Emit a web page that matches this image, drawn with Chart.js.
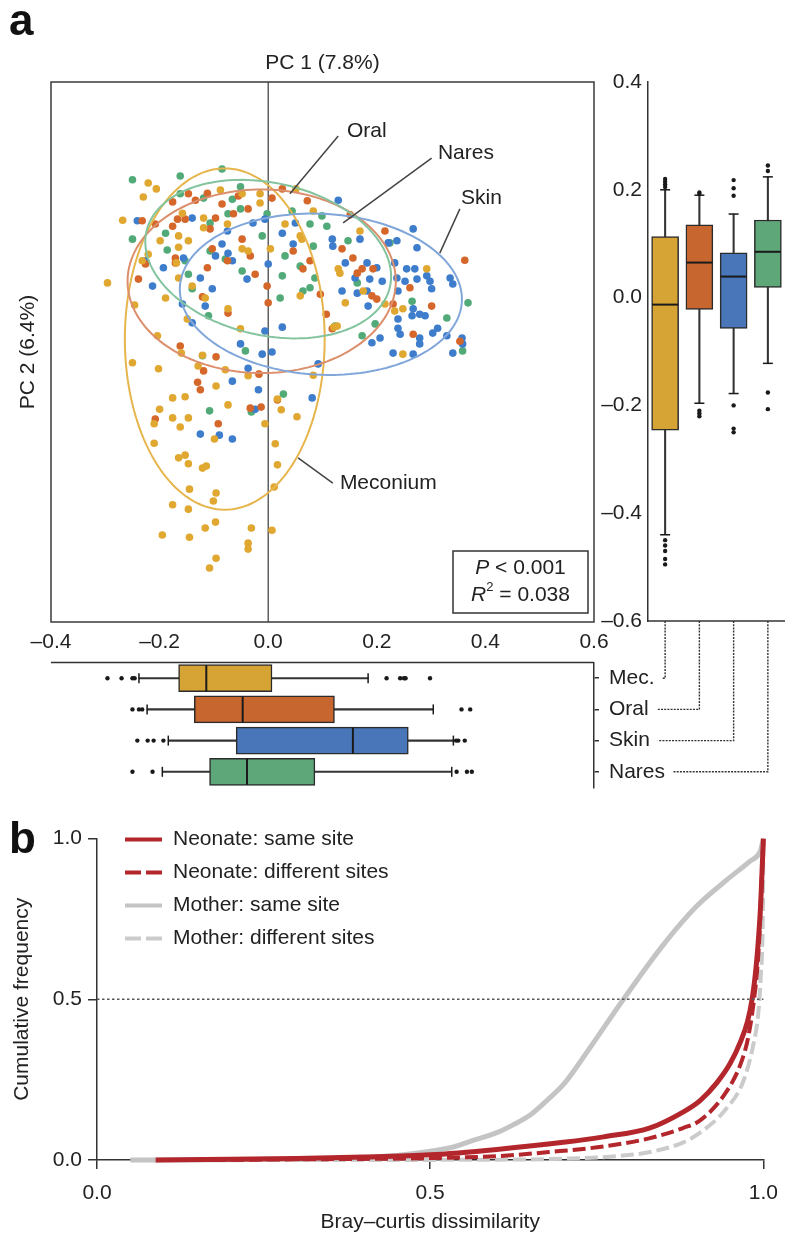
<!DOCTYPE html>
<html>
<head>
<meta charset="utf-8">
<script src="https://cdn.jsdelivr.net/npm/chart.js"></script>
<style>
  body { margin: 0; background: #fff; }
  #wrap { position: relative; width: 790px; height: 1240px; overflow: hidden; font-family: 'Liberation Sans', Arial, sans-serif; }
  #wrap canvas { position: absolute; }
  .tag { position: absolute; font-weight: bold; font-size: 44px; line-height: 1; color: #111; }
</style>
</head>
<body>
<div id="wrap">
  <canvas id="scatter" width="620" height="660" style="left:0;top:0"></canvas>
  <canvas id="boxPC1" width="720" height="170" style="left:0;top:640px"></canvas>
  <canvas id="boxPC2" width="200" height="800" style="left:590px;top:0"></canvas>
  <canvas id="cdf" width="790" height="420" style="left:0;top:820px"></canvas>
  <div class="tag" style="left:9px;top:-2px">a</div>
  <div class="tag" style="left:9px;top:816px">b</div>
</div>
<script>
// ---------- data ----------
const groups = ['Mec.', 'Oral', 'Skin', 'Nares'];

// PCoA coordinates [PC1, PC2] per body site
const meconiumPts = [
  [-0.204,-0.070],[-0.250,-0.120],[-0.202,-0.131],[-0.160,-0.102],[-0.129,-0.126],[-0.079,-0.133],[-0.037,-0.144],
  [-0.096,-0.163],[-0.176,-0.185],[-0.153,-0.183],[-0.200,-0.206],[-0.074,-0.198],[-0.176,-0.222],[-0.147,-0.222],
  [-0.210,-0.233],[-0.162,-0.239],[-0.099,-0.261],[-0.210,-0.269],[-0.006,-0.233],[0.017,-0.187],[0.024,-0.207],
  [0.053,-0.220],[0.083,-0.143],[0.013,-0.270],[-0.165,-0.296],[-0.153,-0.291],[-0.147,-0.307],[-0.121,-0.315],
  [-0.114,-0.311],[0.017,-0.309],[0.011,-0.350],[-0.145,-0.354],[-0.096,-0.361],[-0.101,-0.376],[-0.176,-0.383],
  [-0.147,-0.391],[-0.097,-0.415],[-0.116,-0.426],[-0.031,-0.426],[0.007,-0.430],[-0.195,-0.439],[-0.145,-0.443],
  [-0.037,-0.454],[-0.037,-0.465],[-0.096,-0.482],[-0.108,-0.500],[-0.149,-0.039],[-0.051,-0.057],[0.121,-0.054],
  [-0.121,-0.106],[-0.221,0.213],[-0.206,0.202],[-0.230,0.187],[-0.268,0.144],[-0.296,0.028],[-0.199,0.106],
  [-0.165,0.115],[-0.165,0.094],[-0.147,0.106],[-0.119,0.148],[-0.119,0.130],[-0.158,0.157],[-0.169,0.065],
  [-0.165,0.037],[-0.189,0.000],[-0.246,-0.013],[-0.140,0.022],[-0.074,-0.020],[-0.048,0.193],[-0.015,0.193],
  [-0.015,0.176],[-0.048,0.091],[-0.037,0.087],[0.004,0.091],[-0.088,0.200],[-0.075,0.137],[-0.116,0.000],
  [-0.221,0.081],[-0.232,0.069],[0.031,0.137],[0.059,0.115],[0.062,0.109],[0.129,0.054],[0.132,0.046],
  [0.059,0.004],[0.142,-0.009],[0.175,0.013],[0.215,-0.011],[0.233,-0.024],[0.248,-0.020],[0.127,-0.052],
  [0.292,0.054],[0.248,-0.104],[0.083,0.161],[0.169,0.124],[0.051,0.202]
];
const oralPts = [
  [-0.162,-0.089],[-0.096,-0.109],[-0.119,-0.135],[-0.130,-0.156],[-0.125,-0.170],[-0.017,-0.141],[-0.208,-0.224],
  [-0.092,-0.233],[-0.033,-0.204],[-0.013,-0.202],[0.017,-0.189],[0.107,-0.030],[0.118,-0.057],[-0.074,-0.028],
  [-0.176,0.178],[-0.147,0.193],[-0.134,0.181],[-0.167,0.146],[-0.153,0.146],[-0.176,0.133],[-0.208,0.137],
  [-0.232,0.143],[-0.107,0.128],[-0.097,0.148],[-0.085,0.174],[-0.064,0.156],[-0.055,0.189],[-0.037,0.165],
  [-0.048,0.109],[-0.103,0.091],[-0.171,0.074],[-0.171,0.065],[-0.075,0.069],[-0.033,0.078],[-0.024,0.044],
  [-0.239,0.035],[-0.226,0.063],[-0.112,0.056],[-0.121,0.002],[-0.002,0.022],[0.000,-0.009],[0.007,0.185],
  [-0.112,0.194],[0.046,0.087],[0.064,0.054],[0.077,0.069],[0.136,0.091],[0.156,0.074],[0.164,0.046],
  [0.173,0.054],[0.193,0.054],[0.191,0.004],[0.200,-0.002],[0.215,0.124],[0.261,0.019],[0.301,-0.015],
  [0.362,0.070],[0.096,0.007],[0.230,-0.011],[0.267,-0.067],[0.353,-0.080],[0.072,0.180],[0.151,0.154],
  [0.026,0.202]
];
const skinPts = [
  [-0.066,-0.154],[-0.018,-0.170],[0.026,-0.054],[-0.006,-0.061],[-0.051,-0.085],[-0.011,-0.104],[0.007,-0.100],
  [-0.037,-0.130],[-0.125,-0.252],[-0.090,-0.254],[-0.066,-0.261],[-0.024,-0.206],[0.081,-0.185],[0.092,-0.122],
  [-0.140,-0.046],[0.191,-0.083],[0.230,-0.102],[-0.241,0.143],[-0.226,0.069],[-0.213,0.022],[-0.193,0.056],
  [-0.156,0.074],[-0.140,0.148],[-0.125,0.037],[-0.103,0.017],[-0.116,-0.015],[-0.158,-0.011],[-0.097,0.078],
  [-0.085,0.100],[-0.074,0.083],[-0.066,0.069],[-0.075,0.124],[-0.039,0.035],[-0.028,0.139],[-0.006,0.146],
  [0.000,0.063],[0.026,0.120],[0.129,0.181],[0.050,0.139],[0.046,0.100],[0.118,0.109],[0.119,0.096],
  [0.169,0.109],[0.221,0.102],[0.237,0.106],[0.267,0.128],[0.274,0.093],[0.142,0.065],[0.160,0.037],
  [0.182,0.065],[0.187,0.035],[0.182,0.013],[0.200,0.056],[0.210,0.031],[0.233,0.065],[0.237,0.037],
  [0.239,0.013],[0.255,0.054],[0.252,0.031],[0.270,0.054],[0.274,0.035],[0.292,0.041],[0.298,0.031],
  [0.301,0.017],[0.335,0.037],[0.340,0.026],[0.136,0.013],[0.164,0.009],[0.184,-0.015],[0.239,-0.039],
  [0.265,-0.033],[0.267,-0.020],[0.279,-0.030],[0.289,-0.033],[0.303,-0.065],[0.312,-0.056],[0.329,-0.070],
  [0.279,-0.074],[0.279,-0.085],[0.239,-0.056],[0.243,-0.067],[0.206,-0.074],[0.267,-0.104],[0.340,-0.102],
  [0.357,-0.074],[0.358,-0.085]
];
const naresPts = [
  [-0.108,-0.209],[-0.031,-0.211],[0.028,-0.178],[-0.121,-0.107],[-0.042,-0.098],[-0.110,-0.033],[0.123,-0.052],
  [0.173,-0.070],[0.197,-0.048],[-0.250,0.219],[-0.162,0.226],[-0.085,0.239],[-0.250,0.109],[-0.189,0.120],
  [-0.186,0.089],[-0.153,0.069],[-0.147,0.044],[-0.140,0.017],[-0.107,0.139],[-0.107,0.087],[-0.074,0.156],
  [-0.066,0.183],[-0.051,0.165],[-0.048,0.050],[-0.079,0.072],[-0.011,0.115],[0.022,0.000],[0.026,0.041],
  [-0.162,0.193],[-0.119,0.185],[-0.051,0.206],[0.077,0.137],[0.108,0.133],[0.031,0.078],[0.086,0.037],
  [0.059,0.059],[0.083,0.096],[0.064,0.013],[0.077,0.019],[0.224,0.102],[0.164,0.028],[0.265,-0.006],
  [0.329,-0.037],[0.368,-0.009],[0.358,-0.098],[0.099,0.152],[0.147,0.106],[-0.002,0.156],[0.044,0.161]
];

// 95% ellipses: centre [PC1, PC2], semi-axes, tilt in degrees
const ellipseCentres = [[-0.080, -0.076], [-0.012, 0.031], [0.097, 0.007], [0.000, 0.072]];
const ellipseAxes = [[0.184, 0.316], [0.247, 0.170], [0.260, 0.149], [0.230, 0.141]];
const ellipseTilt = [0, 0, -3, -13];

// box stats: [low whisker, q1, median, q3, high whisker]
const pc1Stats = [
  [-0.238, -0.165, -0.114, 0.007, 0.184],
  [-0.223, -0.136, -0.047, 0.122, 0.304],
  [-0.184, -0.059, 0.156, 0.258, 0.341],
  [-0.195, -0.108, -0.039, 0.086, 0.338]
];
const pc1Outliers = [
  [-0.296, -0.270, -0.250, -0.246, 0.218, 0.243, 0.250, 0.253, 0.298],
  [-0.250, -0.238, -0.232, 0.356, 0.372],
  [-0.241, -0.222, -0.211, -0.193, 0.346, 0.350, 0.362],
  [-0.250, -0.213, 0.347, 0.366, 0.375]
];
const pc2Stats = [
  [-0.440, -0.246, -0.013, 0.113, 0.200],
  [-0.196, -0.022, 0.065, 0.135, 0.190],
  [-0.178, -0.057, 0.039, 0.083, 0.155],
  [-0.122, 0.019, 0.085, 0.144, 0.224]
];
const pc2Outliers = [
  [0.205, 0.210, 0.215, 0.220, -0.450, -0.460, -0.470, -0.485, -0.495],
  [0.192, 0.195, -0.210, -0.215, -0.220],
  [0.189, 0.203, 0.218, -0.200, -0.243, -0.250],
  [0.235, 0.245, -0.176, -0.207]
];

// cumulative distributions of Bray-Curtis dissimilarity
const cdfLabels = ['Neonate: same site', 'Neonate: different sites', 'Mother: same site', 'Mother: different sites'];
const neoSameX = [0.088, 0.2, 0.3, 0.4, 0.5, 0.6, 0.7, 0.76, 0.83, 0.88, 0.905, 0.93, 0.95, 0.966, 0.976, 0.983, 0.989, 0.993, 0.996, 0.998, 1.0];
const neoSameY = [0, 0.002, 0.005, 0.009, 0.016, 0.033, 0.055, 0.072, 0.10, 0.15, 0.185, 0.24, 0.30, 0.37, 0.43, 0.50, 0.60, 0.70, 0.80, 0.90, 1.0];
const neoDiffX = [0.12, 0.3, 0.5, 0.6, 0.68, 0.76, 0.83, 0.88, 0.905, 0.942, 0.966, 0.977, 0.986, 0.991, 0.994, 0.996, 0.998, 1.0];
const neoDiffY = [0, 0.002, 0.006, 0.012, 0.025, 0.042, 0.068, 0.10, 0.123, 0.205, 0.30, 0.38, 0.50, 0.60, 0.70, 0.80, 0.90, 1.0];
const motherSameX = [0.05, 0.2, 0.3, 0.4, 0.46, 0.53, 0.56, 0.6, 0.625, 0.65, 0.675, 0.7, 0.725, 0.75, 0.79, 0.85, 0.9, 0.95, 0.98, 0.995, 1.0];
const motherSameY = [0, 0.001, 0.003, 0.008, 0.016, 0.038, 0.058, 0.085, 0.11, 0.14, 0.185, 0.235, 0.305, 0.38, 0.50, 0.67, 0.79, 0.88, 0.93, 0.96, 1.0];
const motherDiffX = [0.3, 0.6, 0.7, 0.78, 0.83, 0.88, 0.905, 0.942, 0.97, 0.985, 0.992, 0.996, 0.999, 1.0];
const motherDiffY = [0, 0.001, 0.004, 0.012, 0.025, 0.055, 0.085, 0.154, 0.246, 0.36, 0.45, 0.57, 0.75, 1.0];

// ---------- styling ----------
const FONT = "'Liberation Sans', Arial, Helvetica, sans-serif";
const pointColours = ['#e0a830', '#d5672b', '#3e7ccc', '#52aa78'];
const boxColours = ['#d6a335', '#c8662f', '#4876b8', '#5ea779'];
const ellipseColours = ['#e6b54c', '#dc8f6c', '#80a6da', '#83c49e'];
const INK = '#222';
const AXIS = '#333';

// where the site names sit on the ordination (data units)
const callouts = [
  { text: 'Oral',     at: [0.145, 0.309],  from: [0.129, 0.300],  to: [0.040, 0.193] },
  { text: 'Nares',    at: [0.3125, 0.269], from: [0.301, 0.259],  to: [0.138, 0.139] },
  { text: 'Skin',     at: [0.355, 0.185],  from: [0.353, 0.165],  to: [0.316, 0.083] },
  { text: 'Meconium', at: [0.132, -0.343], from: [0.119, -0.343], to: [0.055, -0.296] }
];

Chart.defaults.font.family = FONT;
Chart.defaults.font.size = 21;
Chart.defaults.color = INK;
Chart.defaults.animation = false;
Chart.defaults.responsive = false;
Chart.defaults.devicePixelRatio = 1;
Chart.defaults.plugins.legend.display = false;
Chart.defaults.plugins.tooltip.enabled = false;

const fmt = v => {
  if (Math.abs(v) < 1e-9) return '0.0';
  return v < 0 ? '\u2013' + Math.abs(v).toFixed(1) : v.toFixed(1);
};

function line(ctx, x1, y1, x2, y2) {
  ctx.beginPath();
  ctx.moveTo(x1, y1);
  ctx.lineTo(x2, y2);
  ctx.stroke();
}

function ellipsePath(ctx, xs, ys, c, ax, tiltDeg) {
  const phi = tiltDeg * Math.PI / 180;
  ctx.beginPath();
  for (let k = 0; k <= 160; k++) {
    const t = k / 160 * Math.PI * 2;
    const ex = ax[0] * Math.cos(t), ey = ax[1] * Math.sin(t);
    const px = xs.getPixelForValue(c[0] + ex * Math.cos(phi) - ey * Math.sin(phi));
    const py = ys.getPixelForValue(c[1] + ex * Math.sin(phi) + ey * Math.cos(phi));
    if (k === 0) ctx.moveTo(px, py); else ctx.lineTo(px, py);
  }
  ctx.closePath();
}

// draws a run of [text, style] pieces centred on cx
function richText(ctx, parts, cx, cy) {
  const fonts = { n: `21px ${FONT}`, i: `italic 21px ${FONT}`, s: `13px ${FONT}` };
  let total = 0;
  parts.forEach(([t, s]) => { ctx.font = fonts[s]; total += ctx.measureText(t).width; });
  let x = cx - total / 2;
  ctx.textAlign = 'left';
  parts.forEach(([t, s]) => {
    ctx.font = fonts[s];
    ctx.fillText(t, x, s === 's' ? cy - 8 : cy);
    x += ctx.measureText(t).width;
  });
}

// ---------- panel a: ordination ----------
const scatterDecor = {
  id: 'scatterDecor',
  beforeDatasetsDraw(chart) {
    const { ctx, chartArea: a, scales: { x } } = chart;
    ctx.save();
    ctx.strokeStyle = '#3a3a3a';
    ctx.lineWidth = 1.5;
    ctx.strokeRect(a.left, a.top, a.right - a.left, a.bottom - a.top);
    ctx.lineWidth = 1.2;
    const x0 = x.getPixelForValue(0);
    line(ctx, x0, a.top, x0, a.bottom);
    ctx.restore();
  },
  afterDatasetsDraw(chart) {
    const { ctx, chartArea: a, scales: { x, y } } = chart;
    ctx.save();
    ctx.lineWidth = 2;
    ellipseCentres.forEach((c, i) => {
      ellipsePath(ctx, x, y, c, ellipseAxes[i], ellipseTilt[i]);
      ctx.strokeStyle = ellipseColours[i];
      ctx.stroke();
    });

    ctx.strokeStyle = '#444';
    ctx.lineWidth = 1.5;
    ctx.fillStyle = INK;
    ctx.font = `21px ${FONT}`;
    ctx.textBaseline = 'middle';
    ctx.textAlign = 'left';
    callouts.forEach(c => {
      line(ctx, x.getPixelForValue(c.from[0]), y.getPixelForValue(c.from[1]),
                x.getPixelForValue(c.to[0]), y.getPixelForValue(c.to[1]));
      ctx.fillText(c.text, x.getPixelForValue(c.at[0]), y.getPixelForValue(c.at[1]));
    });

    // PERMANOVA result box
    const bw = 135, bh = 62;
    const bx = a.right - 141, by = a.bottom - 71;
    ctx.fillStyle = '#fff';
    ctx.fillRect(bx, by, bw, bh);
    ctx.strokeStyle = '#333';
    ctx.strokeRect(bx, by, bw, bh);
    ctx.fillStyle = INK;
    richText(ctx, [['P', 'i'], [' < 0.001', 'n']], bx + bw / 2, by + 17);
    richText(ctx, [['R', 'i'], ['2', 's'], [' = 0.038', 'n']], bx + bw / 2, by + 44);

    // axis titles
    ctx.font = `21px ${FONT}`;
    ctx.textAlign = 'center';
    ctx.fillText('PC 1 (7.8%)', (a.left + a.right) / 2, a.top - 19);
    ctx.translate(28, (a.top + a.bottom) / 2);
    ctx.rotate(-Math.PI / 2);
    ctx.fillText('PC 2 (6.4%)', 0, 0);
    ctx.restore();
  }
};

const sitePoints = [meconiumPts, oralPts, skinPts, naresPts];

new Chart(document.getElementById('scatter'), {
  type: 'scatter',
  data: {
    datasets: sitePoints.map((pts, i) => ({
      label: groups[i],
      data: pts.map(p => ({ x: p[0], y: p[1] })),
      backgroundColor: pointColours[i],
      borderWidth: 0,
      pointRadius: 3.8
    }))
  },
  options: {
    layout: { padding: { left: 51, top: 82, right: 26, bottom: 0 } },
    scales: {
      x: {
        type: 'linear', min: -0.4, max: 0.6,
        afterFit: s => { s.height = 38; },
        grid: { display: false, drawTicks: false },
        border: { display: false },
        ticks: { stepSize: 0.2, padding: 8, autoSkip: false, maxRotation: 0, callback: fmt }
      },
      y: { type: 'linear', min: -0.6, max: 0.4, display: false }
    }
  },
  plugins: [scatterDecor]
});

// ---------- panel a: PC1 box plots (below) ----------
const boxDecorH = {
  id: 'boxDecorH',
  afterDatasetsDraw(chart) {
    const { ctx, chartArea: a, scales: { x, y } } = chart;
    ctx.save();
    ctx.strokeStyle = AXIS;
    ctx.lineWidth = 1.5;
    line(ctx, a.left, a.top, a.right, a.top);
    ctx.strokeStyle = '#1a1a1a';
    pc1Stats.forEach((s, i) => {
      const cy = y.getPixelForValue(i);
      ctx.lineWidth = 2;
      line(ctx, x.getPixelForValue(s[2]), cy - 13, x.getPixelForValue(s[2]), cy + 13);
      ctx.lineWidth = 1.5;
      line(ctx, x.getPixelForValue(s[0]), cy - 5, x.getPixelForValue(s[0]), cy + 5);
      line(ctx, x.getPixelForValue(s[4]), cy - 5, x.getPixelForValue(s[4]), cy + 5);
    });
    ctx.restore();
  }
};

const pc1Chart = new Chart(document.getElementById('boxPC1'), {
  type: 'bar',
  data: {
    labels: groups,
    datasets: [
      {
        type: 'scatter',
        data: pc1Outliers.flatMap((vals, i) => vals.map(v => ({ x: v, y: groups[i] }))),
        backgroundColor: '#1a1a1a', borderWidth: 0, pointRadius: 2.2, order: 0
      },
      {
        data: pc1Stats.map(s => [s[1], s[3]]),
        backgroundColor: boxColours, borderColor: '#2b2b2b', borderWidth: 1.5,
        borderSkipped: false, barThickness: 27, grouped: false, order: 1
      },
      {
        data: pc1Stats.map(s => [s[0], s[4]]),
        backgroundColor: '#333', borderWidth: 0, barThickness: 1.4, grouped: false, order: 2
      }
    ]
  },
  options: {
    indexAxis: 'y',
    layout: { padding: { left: 51, top: 19, right: 0, bottom: 15 } },
    scales: {
      x: { type: 'linear', min: -0.4, max: 0.6, display: false },
      y: {
        type: 'category', position: 'right',
        afterFit: s => { s.width = 126; },
        grid: { display: true, offset: false, drawOnChartArea: false, drawTicks: true, tickLength: 5, color: AXIS, lineWidth: 1.5 },
        border: { display: true, color: AXIS, width: 1.5 },
        ticks: { padding: 10, color: INK }
      }
    }
  },
  plugins: [boxDecorH]
});

// ---------- panel a: PC2 box plots (right) ----------
const boxDecorV = {
  id: 'boxDecorV',
  afterDatasetsDraw(chart) {
    const { ctx, scales: { x, y } } = chart;
    ctx.save();
    ctx.strokeStyle = '#1a1a1a';
    pc2Stats.forEach((s, i) => {
      const cx = x.getPixelForValue(i);
      ctx.lineWidth = 2;
      line(ctx, cx - 13, y.getPixelForValue(s[2]), cx + 13, y.getPixelForValue(s[2]));
      ctx.lineWidth = 1.5;
      line(ctx, cx - 5, y.getPixelForValue(s[0]), cx + 5, y.getPixelForValue(s[0]));
      line(ctx, cx - 5, y.getPixelForValue(s[4]), cx + 5, y.getPixelForValue(s[4]));
    });
    ctx.restore();
  },
  afterDraw(chart) {
    // base line and dotted links down to the PC1 row labels
    const { ctx, chartArea: a, scales: { x } } = chart;
    const ys = pc1Chart.scales.y;
    const dy = pc1Chart.canvas.offsetTop - chart.canvas.offsetTop;
    const dx = pc1Chart.canvas.offsetLeft - chart.canvas.offsetLeft;
    const labelX = ys.left + 5 + 10 + dx;
    ctx.save();
    ctx.strokeStyle = AXIS;
    ctx.lineWidth = 1.5;
    line(ctx, a.left, a.bottom, a.right, a.bottom);
    ctx.font = `21px ${FONT}`;
    ctx.strokeStyle = '#333';
    ctx.lineWidth = 1.4;
    ctx.setLineDash([2, 1.2]);
    groups.forEach((g, i) => {
      const cx = x.getPixelForValue(i);
      const ly = ys.getPixelForValue(i) + dy;
      const end = labelX + ctx.measureText(g).width + 8;
      ctx.beginPath();
      ctx.moveTo(cx, a.bottom);
      ctx.lineTo(cx, ly);
      if (end < cx - 2) ctx.lineTo(end, ly);
      ctx.stroke();
    });
    ctx.restore();
  }
};

new Chart(document.getElementById('boxPC2'), {
  type: 'bar',
  data: {
    labels: groups,
    datasets: [
      {
        type: 'scatter',
        data: pc2Outliers.flatMap((vals, i) => vals.map(v => ({ x: groups[i], y: v }))),
        backgroundColor: '#1a1a1a', borderWidth: 0, pointRadius: 2.2, order: 0
      },
      {
        data: pc2Stats.map(s => [s[1], s[3]]),
        backgroundColor: boxColours, borderColor: '#2b2b2b', borderWidth: 1.5,
        borderSkipped: false, barThickness: 27, grouped: false, order: 1
      },
      {
        data: pc2Stats.map(s => [s[0], s[4]]),
        backgroundColor: '#333', borderWidth: 0, barThickness: 1.4, grouped: false, order: 2
      }
    ]
  },
  options: {
    layout: { padding: { left: 0, top: 82, right: 5, bottom: 179 } },
    scales: {
      x: { type: 'category', display: false },
      y: {
        type: 'linear', min: -0.6, max: 0.4, position: 'left',
        afterFit: s => { s.width = 58; },
        grid: { display: false, drawTicks: false },
        border: { display: true, color: AXIS, width: 1.5 },
        ticks: { stepSize: 0.2, padding: 6, callback: fmt }
      }
    }
  },
  plugins: [boxDecorV]
});

// ---------- panel b: cumulative frequency ----------
const zip = (xs, ys) => xs.map((v, i) => ({ x: v, y: ys[i] }));

const cdfDecor = {
  id: 'cdfDecor',
  afterDatasetsDraw(chart) {
    const { ctx, scales: { x, y } } = chart;
    ctx.save();
    ctx.strokeStyle = '#555';
    ctx.lineWidth = 1.6;
    ctx.setLineDash([2.5, 2.5]);
    line(ctx, x.getPixelForValue(0), y.getPixelForValue(0.5), x.getPixelForValue(1), y.getPixelForValue(0.5));
    ctx.restore();
  },
  afterDraw(chart) {
    const { ctx, chartArea: a } = chart;
    ctx.save();
    ctx.font = `21px ${FONT}`;
    ctx.textBaseline = 'middle';
    ctx.textAlign = 'left';
    chart.data.datasets.forEach((ds, i) => {
      const yy = a.top + 1 + i * 33;
      ctx.strokeStyle = ds.borderColor;
      ctx.lineWidth = 4;
      ctx.setLineDash(ds.borderDash ? [16, 5] : []);
      line(ctx, a.left + 28, yy, a.left + 65, yy);
      ctx.setLineDash([]);
      ctx.fillStyle = INK;
      ctx.fillText(ds.label, a.left + 76, yy);
    });
    ctx.restore();
  }
};

const curveBase = { pointRadius: 0, fill: false, cubicInterpolationMode: 'monotone', clip: false };

new Chart(document.getElementById('cdf'), {
  type: 'line',
  data: {
    datasets: [
      { ...curveBase, label: cdfLabels[0], data: zip(neoSameX, neoSameY), borderColor: '#b3262c', borderWidth: 5, order: 0 },
      { ...curveBase, label: cdfLabels[1], data: zip(neoDiffX, neoDiffY), borderColor: '#b3262c', borderWidth: 4, borderDash: [13, 5], order: 1 },
      { ...curveBase, label: cdfLabels[2], data: zip(motherSameX, motherSameY), borderColor: '#c4c4c4', borderWidth: 5, order: 2 },
      { ...curveBase, label: cdfLabels[3], data: zip(motherDiffX, motherDiffY), borderColor: '#cbcbcb', borderWidth: 4, borderDash: [13, 5], order: 3 }
    ]
  },
  options: {
    layout: { padding: { left: 0, top: 15, right: 21, bottom: 0 } },
    scales: {
      x: {
        type: 'linear', min: 0, max: 1,
        afterFit: s => { s.height = 80; },
        grid: { drawOnChartArea: false, drawTicks: true, tickLength: 9, color: AXIS, lineWidth: 1.5 },
        border: { display: true, color: AXIS, width: 1.5 },
        ticks: { stepSize: 0.5, padding: 12, maxRotation: 0, callback: v => v.toFixed(1) },
        title: { display: true, text: 'Bray\u2013curtis dissimilarity', color: INK, padding: { top: 0, bottom: 5 } }
      },
      y: {
        type: 'linear', min: 0, max: 1,
        afterFit: s => { s.width = 97; },
        grid: { drawOnChartArea: false, drawTicks: true, tickLength: 9, color: AXIS, lineWidth: 1.5 },
        border: { display: true, color: AXIS, width: 1.5 },
        ticks: { stepSize: 0.5, padding: 6, callback: v => v.toFixed(1) },
        title: { display: true, text: 'Cumulative frequency', color: INK, padding: { top: 10, bottom: 0 } }
      }
    }
  },
  plugins: [cdfDecor]
});
</script>
</body>
</html>
